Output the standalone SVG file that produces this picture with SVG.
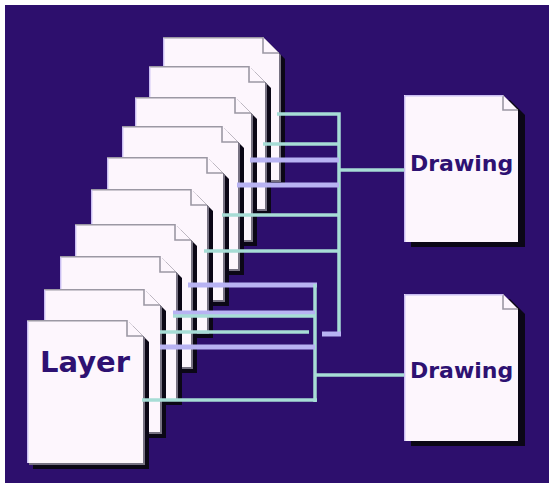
<svg xmlns="http://www.w3.org/2000/svg" xmlns:xlink="http://www.w3.org/1999/xlink" width="549" height="483" viewBox="0 0 549 483">
  <style>
    .bg { fill: #2d0f6d; }
    .sheet { fill: #fdf6fd; }
    .shadow { fill: #0b0716; }
    .band { fill: #777282; }
    .edge { fill: none; stroke: #9c98a4; stroke-width: 1.6; }
    .rim { fill: none; stroke: #c9bdf2; stroke-width: 1.4; }
    .label { font-family: "DejaVu Sans", "Liberation Sans", sans-serif; font-weight: bold; fill: #2e1172; }
    .cyan { fill: none; stroke: #a7ddd6; stroke-width: 3.5; }
    .lav { fill: none; stroke: #b8b3f3; stroke-width: 5; }
  </style>
  <defs>
    <!-- one layer sheet: 116 x 143 with a folded top-right corner -->
    <g id="layerSheet">
      <path class="shadow" d="M6,6 H106 L122,22 V149 H6 Z"/>
      <path class="band" d="M2,2 H102 L118,18 V145 H2 Z"/>
      <path class="sheet" d="M0,0 H100 L116,16 V143 H0 Z"/>
      <path class="edge" d="M0,0.8 H100 M100,0 V16 H116"/>
      <path class="rim" d="M0.7,1 V143"/>
    </g>
    <!-- one drawing sheet: 114 x 147 -->
    <g id="drawingSheet">
      <path class="shadow" d="M7,5 H106 L121,20 V152 H7 Z"/>
      <path class="sheet" d="M0,0 H99 L114,15 V147 H0 Z"/>
      <path class="edge" d="M99,0 V15 H114"/>
      <path class="rim" d="M0.7,0.7 H99 M0.7,0.7 V147"/>
    </g>
  </defs>

  <rect class="bg" x="5" y="5" width="544" height="478"/>

  <!-- layer stack, back to front -->
  <g id="layer-1"><use xlink:href="#layerSheet" transform="translate(163,37)"/></g>
  <g id="layer-2"><use xlink:href="#layerSheet" transform="translate(149,66)"/></g>
  <g id="layer-3"><use xlink:href="#layerSheet" transform="translate(135,97)"/></g>
  <g id="layer-4"><use xlink:href="#layerSheet" transform="translate(122,126)"/></g>
  <g id="layer-5"><use xlink:href="#layerSheet" transform="translate(107,157)"/></g>
  <g id="layer-6"><use xlink:href="#layerSheet" transform="translate(91,189)"/></g>
  <g id="layer-7"><use xlink:href="#layerSheet" transform="translate(75,224)"/></g>
  <g id="layer-8"><use xlink:href="#layerSheet" transform="translate(60,256)"/></g>
  <g id="layer-9"><use xlink:href="#layerSheet" transform="translate(44,289)"/></g>
  <g id="layer-10">
    <use xlink:href="#layerSheet" transform="translate(27,320)"/>
    <text class="label" x="40" y="372" font-size="29">Layer</text>
  </g>

  <!-- drawings -->
  <g id="drawing-top">
    <use xlink:href="#drawingSheet" transform="translate(404,95)"/>
    <text class="label" x="410" y="171" font-size="22">Drawing</text>
  </g>
  <g id="drawing-bottom">
    <use xlink:href="#drawingSheet" transform="translate(404,294)"/>
    <text class="label" x="410" y="378" font-size="22">Drawing</text>
  </g>

  <!-- connectors -->
  <g id="connectors">
    <!-- upper bus -->
    <path class="cyan" d="M277,114 H339 V336"/>
    <path class="cyan" d="M263,144 H339"/>
    <path class="lav" d="M250,160 H339"/>
    <path class="lav" d="M237,185 H339"/>
    <path class="cyan" d="M222,215 H339"/>
    <path class="cyan" d="M204,251 H339"/>
    <path class="cyan" d="M160,332 H309"/>
    <path class="lav" d="M322,334 H341"/>
    <path class="cyan" d="M339,170 H404"/>
    <!-- lower bus -->
    <path class="lav" d="M188,285 H317"/>
    <path class="cyan" d="M315,284 V402"/>
    <path class="lav" d="M173,313 H315"/>
    <path class="cyan" d="M173,316 H315" stroke-width="2.5"/>
    <path class="lav" d="M160,347 H315"/>
    <path class="cyan" d="M142,400 H317"/>
    <path class="cyan" d="M315,375 H404"/>
  </g>
</svg>
